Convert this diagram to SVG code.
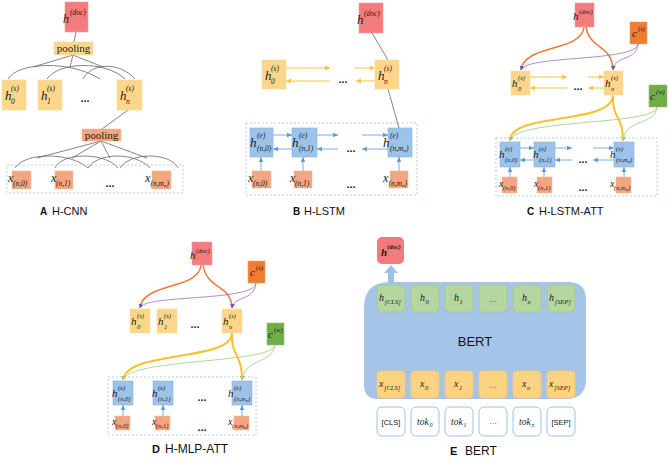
<svg xmlns="http://www.w3.org/2000/svg" width="669" height="458" viewBox="0 0 669 458">
<style>
.red{fill:#f47b7e;stroke:#eea0a0;stroke-width:0.6}
.yel{fill:#fdd68b;stroke:#f8dca6;stroke-width:0.6}
.sal{fill:#f4a680;stroke:#f2bca0;stroke-width:0.6}
.blu{fill:#9dc3ea;stroke:#86b0de;stroke-width:0.6}
.org{fill:#ed7d31;stroke:#f0a070;stroke-width:0.6}
.grn{fill:#70ad47;stroke:#90c070;stroke-width:0.6}
.eg{fill:#b5d69f;stroke:#a5cd8b;stroke-width:0.8}
.ey{fill:#fdd383;stroke:#f7c874;stroke-width:0.8}
.et{fill:#fff;stroke:#9dc3e6;stroke-width:1}
.dash{fill:none;stroke:#9dc3e6;stroke-width:0.8;stroke-dasharray:2,2}
.m{font-family:"Liberation Serif",serif;font-style:italic;fill:#1a1a1a}
.b{font-size:12px}
.s{font-size:7.5px}
.r{font-family:"Liberation Serif",serif;fill:#222}
.sans{font-family:"Liberation Sans",Arial,sans-serif;fill:#111}
.dots{font-family:"Liberation Sans",sans-serif;font-size:11px;font-weight:bold;fill:#222;text-anchor:middle}
.gl{fill:none;stroke:#666;stroke-width:0.8}
.ya{fill:none;stroke:#f8c53a;stroke-width:1;marker-end:url(#my)}
.ba{fill:none;stroke:#5b9bd5;stroke-width:0.8;marker-end:url(#mb)}
.oc{fill:none;stroke:#e97a3a;stroke-width:1.5}
.pc{fill:none;stroke:#9b6fcf;stroke-width:0.8}
.yc{fill:none;stroke:#f7c22d;stroke-width:2}
.gc{fill:none;stroke:#9ccc7a;stroke-width:0.8}
</style>
<defs>
<marker id="my" markerWidth="6" markerHeight="6" refX="5" refY="3" orient="auto" markerUnits="userSpaceOnUse"><path d="M0,0.5 L5,3 L0,5.5 z" fill="#f8c53a"/></marker>
<marker id="mb" markerWidth="6" markerHeight="6" refX="5" refY="3" orient="auto" markerUnits="userSpaceOnUse"><path d="M0,0.8 L5,3 L0,5.2 z" fill="#5b9bd5"/></marker>
<marker id="mp" markerWidth="6" markerHeight="6" refX="4" refY="3" orient="auto" markerUnits="userSpaceOnUse"><path d="M0,0.5 L4,3 L0,5.5 z" fill="#6a4fb0"/></marker>
<marker id="mg" markerWidth="6" markerHeight="6" refX="4" refY="3" orient="auto" markerUnits="userSpaceOnUse"><path d="M0,0.5 L4,3 L0,5.5 z" fill="#6aa84f"/></marker>
</defs>

<!-- connectors -->
<g id="connectors">
  <!-- A -->
  <path class="gl" d="M76,32 L74,42"/>
  <path class="gl" d="M73,55 L33,67 M73,55 L70,67 M73,55 L103,67"/>
  <path class="gl" d="M8,79 C18,62 70,60 100,79"/>
  <path class="gl" d="M47,79 C58,62 105,60 125,79"/>
  <path class="gl" d="M83,79 C92,62 120,62 135,79"/>
  <path class="gl" d="M128,110 L102,129"/>
  <path class="gl" d="M101,141 L37,158 M101,141 L72,158 M101,141 L110,158 M101,141 L147,158"/>
  <path class="gl" d="M15,168 C25,152 70,152 88,168"/>
  <path class="gl" d="M55,168 C62,152 105,152 118,168"/>
  <path class="gl" d="M88,168 C98,152 135,152 150,168"/>
  <path class="gl" d="M120,168 C130,152 170,152 178,168"/>
  <!-- B -->
  <path class="gl" d="M372,33 L388,60 M388,89 L399,128"/>
  <path class="ya" d="M286,68 L330,68"/><path class="ya" d="M355,68 L375,68"/>
  <path class="ya" d="M330,81 L286,81"/><path class="ya" d="M375,81 L356,81"/>
  <path class="ba" d="M273,135 L292,135"/><path class="ba" d="M317,135 L338,135"/><path class="ba" d="M362,135 L388,135"/>
  <path class="ba" d="M292,149 L273,149"/><path class="ba" d="M338,149 L317,149"/><path class="ba" d="M388,149 L362,149"/>
  <path class="ba" d="M261,171 L261,157"/><path class="ba" d="M303,171 L303,157"/><path class="ba" d="M399,171 L399,157"/>
  <!-- C -->
  <path class="oc" d="M584,27 C582,52 524,44 521,70"/>
  <path class="oc" d="M586,27 C590,50 612,44 613,70"/>
  <path class="pc" d="M638,44 C636,62 525,55 521,70" marker-end="url(#mp)"/>
  <path class="pc" d="M638,44 C636,62 614,55 613,70" marker-end="url(#mp)"/>
  <path class="ya" d="M530,77 L567,77"/><path class="ya" d="M588,77 L604,77"/>
  <path class="ya" d="M567,88 L530,88"/><path class="ya" d="M604,88 L588,88"/>
  <path class="gc" d="M657,107 C655,126 515,118 510,141" marker-end="url(#mg)"/>
  <path class="gc" d="M657,107 C655,126 625,118 623,141" marker-end="url(#mg)"/>
  <path class="yc" d="M613,95 C613,125 512,112 510,140"/>
  <path class="yc" d="M613,95 C612,120 623,115 623,140"/>
  <path class="ba" d="M520,148 L534,148"/><path class="ba" d="M555,148 L572,148"/><path class="ba" d="M593,148 L614,148"/>
  <path class="ba" d="M534,160 L520,160"/><path class="ba" d="M572,160 L555,160"/><path class="ba" d="M614,160 L593,160"/>
  <path class="ba" d="M510,177 L510,167"/><path class="ba" d="M544,177 L544,167"/><path class="ba" d="M624,177 L624,167"/>
  <!-- D -->
  <path class="oc" d="M201,265 C199,290 143,282 140,308"/>
  <path class="oc" d="M203,265 C207,290 231,284 232,308"/>
  <path class="pc" d="M256,283 C254,302 144,294 140,308" marker-end="url(#mp)"/>
  <path class="pc" d="M256,283 C254,302 234,295 232,308" marker-end="url(#mp)"/>
  <path class="gc" d="M275,345 C273,364 128,358 123,380" marker-end="url(#mg)"/>
  <path class="gc" d="M275,345 C273,364 244,358 242,380" marker-end="url(#mg)"/>
  <path class="yc" d="M232,333 C232,362 126,350 123,380"/>
  <path class="yc" d="M232,333 C231,358 242,352 242,380"/>
  <path class="ba" d="M123,416 L123,405"/><path class="ba" d="M163,416 L163,405"/><path class="ba" d="M242,416 L242,405"/>
</g>

<!-- Panel A -->
<g id="A-hdoc"><rect class="red" x="65" y="2" width="23" height="30"/><text class="m"><tspan class="b" x="63" y="23" font-size="13">h</tspan><tspan class="s" x="70" y="15">(doc)</tspan></text></g>
<g id="A-pool1"><rect class="yel" x="54" y="42" width="39" height="13"/><text class="r" x="73.5" y="52" font-size="11" text-anchor="middle">pooling</text></g>
<g id="A-h0"><rect class="yel" x="2" y="80" width="24" height="30"/><text class="m"><tspan x="5" y="100" font-size="13">h</tspan><tspan class="s" x="11" y="91">(s)</tspan><tspan class="s" x="11" y="104">0</tspan></text></g>
<g id="A-h1"><rect class="yel" x="38" y="80" width="24" height="30"/><text class="m"><tspan x="41" y="100" font-size="13">h</tspan><tspan class="s" x="47" y="91">(s)</tspan><tspan class="s" x="47" y="104">1</tspan></text></g>
<text class="dots" x="85" y="102">...</text>
<g id="A-hn"><rect class="yel" x="117" y="80" width="25" height="30"/><text class="m"><tspan x="120" y="100" font-size="13">h</tspan><tspan class="s" x="126" y="91">(s)</tspan><tspan class="s" x="126" y="104">n</tspan></text></g>
<g id="A-pool2"><rect class="sal" x="82" y="129" width="39" height="12"/><text class="r" x="101.5" y="139" font-size="11" text-anchor="middle">pooling</text></g>
<rect class="dash" x="7" y="165" width="176" height="28"/>
<g id="A-x0"><rect class="sal" x="12" y="171" width="19" height="18"/><text class="m"><tspan x="8" y="182" font-size="12">x</tspan><tspan class="s" x="13" y="186">(n,0)</tspan></text></g>
<g id="A-x1"><rect class="sal" x="55" y="171" width="18" height="18"/><text class="m"><tspan x="51" y="182" font-size="12">x</tspan><tspan class="s" x="56" y="186">(n,1)</tspan></text></g>
<text class="dots" x="110" y="187">...</text>
<g id="A-xn"><rect class="sal" x="152" y="171" width="19" height="18"/><text class="m"><tspan x="145" y="182" font-size="12">x</tspan><tspan class="s" x="150.5" y="186">(n,m</tspan><tspan font-size="5" dy="1">n</tspan><tspan class="s" dy="-1">)</tspan></text></g>
<text class="sans" x="40" y="215" font-size="10" font-weight="bold">A</text><text class="sans" x="52" y="215" font-size="11">H-CNN</text>

<!-- Panel B -->
<g id="B-hdoc"><rect class="red" x="359" y="3" width="24" height="30"/><text class="m"><tspan x="357" y="24" font-size="13">h</tspan><tspan class="s" x="364" y="16">(doc)</tspan></text></g>
<g id="B-h0"><rect class="yel" x="262" y="60" width="24" height="29"/><text class="m"><tspan x="265" y="80" font-size="13">h</tspan><tspan class="s" x="271" y="71">(s)</tspan><tspan class="s" x="271" y="84">0</tspan></text></g>
<text class="dots" x="343" y="83">...</text>
<g id="B-hn"><rect class="yel" x="375" y="60" width="24" height="29"/><text class="m"><tspan x="378" y="80" font-size="13">h</tspan><tspan class="s" x="384" y="71">(s)</tspan><tspan class="s" x="384" y="84">n</tspan></text></g>
<rect class="dash" x="246" y="123" width="171" height="72"/>
<g id="B-he0"><rect class="blu" x="250" y="128" width="23" height="29"/><text class="m"><tspan x="250" y="147" font-size="13">h</tspan><tspan class="s" x="257" y="138">(e)</tspan><tspan class="s" x="257" y="151">(n,0)</tspan></text></g>
<g id="B-he1"><rect class="blu" x="292" y="128" width="25" height="29"/><text class="m"><tspan x="292" y="147" font-size="13">h</tspan><tspan class="s" x="299" y="138">(e)</tspan><tspan class="s" x="299" y="151">(n,1)</tspan></text></g>
<text class="dots" x="351" y="152">...</text>
<g id="B-hen"><rect class="blu" x="388" y="128" width="24" height="29"/><text class="m"><tspan x="383" y="147" font-size="13">h</tspan><tspan class="s" x="390" y="138">(e)</tspan><tspan class="s" x="390" y="151">(n,m</tspan><tspan font-size="5" dy="1">n</tspan><tspan class="s" dy="-1">)</tspan></text></g>
<g id="B-x0"><rect class="sal" x="252" y="171" width="19" height="17"/><text class="m"><tspan x="248" y="182" font-size="12">x</tspan><tspan class="s" x="253" y="186">(n,0)</tspan></text></g>
<g id="B-x1"><rect class="sal" x="294" y="171" width="18" height="17"/><text class="m"><tspan x="290" y="182" font-size="12">x</tspan><tspan class="s" x="295" y="186">(n,1)</tspan></text></g>
<text class="dots" x="351" y="188">...</text>
<g id="B-xn"><rect class="sal" x="390" y="171" width="18" height="17"/><text class="m"><tspan x="383" y="182" font-size="12">x</tspan><tspan class="s" x="388.5" y="186">(n,m</tspan><tspan font-size="5" dy="1">n</tspan><tspan class="s" dy="-1">)</tspan></text></g>
<text class="sans" x="293" y="215" font-size="10" font-weight="bold">B</text><text class="sans" x="304" y="215" font-size="11">H-LSTM</text>

<!-- Panel C -->
<g id="C-hdoc"><rect class="red" x="575" y="3" width="19" height="24"/><text class="m"><tspan x="573" y="20" font-size="11">h</tspan><tspan font-size="6.5" x="579" y="14">(doc)</tspan></text></g>
<g id="C-cs"><rect class="org" x="630" y="22" width="17" height="22"/><text class="m"><tspan x="632" y="37" font-size="11">c</tspan><tspan font-size="6.5" x="638" y="31">(s)</tspan></text></g>
<g id="C-h0"><rect class="yel" x="511" y="71" width="19" height="24"/><text class="m"><tspan x="512" y="87" font-size="11">h</tspan><tspan font-size="6.5" x="518" y="80">(s)</tspan><tspan font-size="6.5" x="518" y="91">0</tspan></text></g>
<text class="dots" x="578" y="90">...</text>
<g id="C-hn"><rect class="yel" x="604" y="71" width="19" height="24"/><text class="m"><tspan x="605" y="87" font-size="11">h</tspan><tspan font-size="6.5" x="611" y="80">(s)</tspan><tspan font-size="6.5" x="611" y="91">n</tspan></text></g>
<g id="C-cw"><rect class="grn" x="649" y="85" width="18" height="22"/><text class="m"><tspan x="650" y="100" font-size="11">c</tspan><tspan font-size="6.5" x="656" y="94">(w)</tspan></text></g>
<rect class="dash" x="496" y="138" width="161" height="58"/>
<g id="C-he0"><rect class="blu" x="500" y="142" width="20" height="25"/><text class="m"><tspan x="499" y="158" font-size="11">h</tspan><tspan font-size="6.5" x="505" y="151">(e)</tspan><tspan font-size="6.5" x="505" y="162">(n,0)</tspan></text></g>
<g id="C-he1"><rect class="blu" x="534" y="142" width="21" height="25"/><text class="m"><tspan x="533" y="158" font-size="11">h</tspan><tspan font-size="6.5" x="539" y="151">(e)</tspan><tspan font-size="6.5" x="539" y="162">(n,1)</tspan></text></g>
<text class="dots" x="583" y="163">...</text>
<g id="C-hen"><rect class="blu" x="614" y="142" width="20" height="25"/><text class="m"><tspan x="610" y="158" font-size="11">h</tspan><tspan font-size="6.5" x="616" y="151">(e)</tspan><tspan font-size="6.5" x="616" y="162">(n,m</tspan><tspan font-size="4.5" dy="1">n</tspan><tspan font-size="6.5" dy="-1">)</tspan></text></g>
<g id="C-x0"><rect class="sal" x="502" y="177" width="15" height="16"/><text class="m"><tspan x="499" y="187" font-size="10">x</tspan><tspan font-size="6.5" x="503" y="190">(n,0)</tspan></text></g>
<g id="C-x1"><rect class="sal" x="537" y="177" width="15" height="16"/><text class="m"><tspan x="534" y="187" font-size="10">x</tspan><tspan font-size="6.5" x="538" y="190">(n,1)</tspan></text></g>
<text class="dots" x="583" y="191">...</text>
<g id="C-xn"><rect class="sal" x="616" y="177" width="15" height="16"/><text class="m"><tspan x="610" y="187" font-size="10">x</tspan><tspan font-size="6.5" x="614" y="190">(n,m</tspan><tspan font-size="4.5" dy="1">n</tspan><tspan font-size="6.5" dy="-1">)</tspan></text></g>
<text class="sans" x="527" y="215" font-size="10" font-weight="bold">C</text><text class="sans" x="539" y="215" font-size="11">H-LSTM-ATT</text>

<!-- Panel D -->
<g id="D-hdoc"><rect class="red" x="192" y="242" width="20" height="23"/><text class="m"><tspan x="190" y="259" font-size="11">h</tspan><tspan font-size="6.5" x="196" y="253">(doc)</tspan></text></g>
<g id="D-cs"><rect class="org" x="248" y="261" width="17" height="22"/><text class="m"><tspan x="250" y="276" font-size="11">c</tspan><tspan font-size="6.5" x="256" y="270">(s)</tspan></text></g>
<g id="D-h0"><rect class="yel" x="130" y="309" width="20" height="24"/><text class="m"><tspan x="131" y="325" font-size="11">h</tspan><tspan font-size="6.5" x="137" y="318">(s)</tspan><tspan font-size="6.5" x="137" y="329">0</tspan></text></g>
<g id="D-h1"><rect class="yel" x="157" y="309" width="20" height="24"/><text class="m"><tspan x="158" y="325" font-size="11">h</tspan><tspan font-size="6.5" x="164" y="318">(s)</tspan><tspan font-size="6.5" x="164" y="329">1</tspan></text></g>
<text class="dots" x="195" y="328">...</text>
<g id="D-hn"><rect class="yel" x="222" y="309" width="20" height="24"/><text class="m"><tspan x="223" y="325" font-size="11">h</tspan><tspan font-size="6.5" x="229" y="318">(s)</tspan><tspan font-size="6.5" x="229" y="329">n</tspan></text></g>
<g id="D-cw"><rect class="grn" x="267" y="323" width="17" height="22"/><text class="m"><tspan x="268" y="338" font-size="11">c</tspan><tspan font-size="6.5" x="274" y="332">(w)</tspan></text></g>
<rect class="dash" x="108" y="377" width="148" height="58"/>
<g id="D-he0"><rect class="blu" x="113" y="381" width="20" height="24"/><text class="m"><tspan x="112" y="397" font-size="11">h</tspan><tspan font-size="6.5" x="118" y="390">(e)</tspan><tspan font-size="6.5" x="118" y="401">(n,0)</tspan></text></g>
<g id="D-he1"><rect class="blu" x="153" y="381" width="20" height="24"/><text class="m"><tspan x="152" y="397" font-size="11">h</tspan><tspan font-size="6.5" x="158" y="390">(e)</tspan><tspan font-size="6.5" x="158" y="401">(n,1)</tspan></text></g>
<text class="dots" x="202" y="401">...</text>
<g id="D-hen"><rect class="blu" x="232" y="381" width="20" height="24"/><text class="m"><tspan x="228" y="397" font-size="11">h</tspan><tspan font-size="6.5" x="234" y="390">(e)</tspan><tspan font-size="6.5" x="234" y="401">(n,m</tspan><tspan font-size="4.5" dy="1">n</tspan><tspan font-size="6.5" dy="-1">)</tspan></text></g>
<g id="D-x0"><rect class="sal" x="115" y="416" width="15" height="14"/><text class="m"><tspan x="112" y="425" font-size="10">x</tspan><tspan font-size="6.5" x="116" y="428">(n,0)</tspan></text></g>
<g id="D-x1"><rect class="sal" x="155" y="416" width="15" height="14"/><text class="m"><tspan x="152" y="425" font-size="10">x</tspan><tspan font-size="6.5" x="156" y="428">(n,1)</tspan></text></g>
<text class="dots" x="202" y="431">...</text>
<g id="D-xn"><rect class="sal" x="234" y="416" width="15" height="14"/><text class="m"><tspan x="228" y="425" font-size="10">x</tspan><tspan font-size="6.5" x="232" y="428">(n,m</tspan><tspan font-size="4.5" dy="1">n</tspan><tspan font-size="6.5" dy="-1">)</tspan></text></g>
<text class="sans" x="152" y="453" font-size="11" font-weight="bold">D</text><text class="sans" x="165" y="453" font-size="12">H-MLP-ATT</text>

<!-- Panel E -->
<g id="E-bert">
  <path d="M390,282 L568,282 Q586,282 586,300 L586,379 Q586,399 566,399 L378,399 Q364,399 364,385 L364,308 Q364,282 390,282 Z" fill="#a6c4e7"/>
  <text class="sans" x="475" y="346" font-size="13" text-anchor="middle">BERT</text>
</g>
<path id="E-arrow" d="M388,283 L388,273 L384,273 L391,265 L398,273 L394,273 L394,283 Z" fill="#9dc0e6"/>
<g id="E-hdoc"><rect x="377" y="237" width="27" height="27" rx="5" fill="#f47a7d"/><text class="m" font-weight="bold"><tspan x="381" y="256" font-size="11">h</tspan><tspan font-size="6.5" x="387" y="249">(doc)</tspan></text></g>
<g id="E-hcls"><rect class="eg" x="377" y="285" width="28" height="27" rx="4"/><text class="m"><tspan x="379" y="301" font-size="10">h</tspan><tspan font-size="6.5" x="384.5" y="304">[CLS]</tspan></text></g>
<g id="E-h0"><rect class="eg" x="411" y="285" width="28" height="27" rx="4"/><text class="m"><tspan x="420" y="301" font-size="10">h</tspan><tspan font-size="6.5" x="425.5" y="304">0</tspan></text></g>
<g id="E-h1"><rect class="eg" x="445" y="285" width="28" height="27" rx="4"/><text class="m"><tspan x="454" y="301" font-size="10">h</tspan><tspan font-size="6.5" x="459.5" y="304">1</tspan></text></g>
<g id="E-hd"><rect class="eg" x="479" y="285" width="28" height="27" rx="4"/><text class="r" x="493" y="302" font-size="8" text-anchor="middle">…</text></g>
<g id="E-hn"><rect class="eg" x="513" y="285" width="28" height="27" rx="4"/><text class="m"><tspan x="522" y="301" font-size="10">h</tspan><tspan font-size="6.5" x="527.5" y="304">n</tspan></text></g>
<g id="E-hsep"><rect class="eg" x="547" y="285" width="28" height="27" rx="4"/><text class="m"><tspan x="549" y="301" font-size="10">h</tspan><tspan font-size="6.5" x="554.5" y="304">[SEP]</tspan></text></g>
<g id="E-xcls"><rect class="ey" x="377" y="371" width="28" height="27" rx="4"/><text class="m"><tspan x="379" y="387" font-size="10">x</tspan><tspan font-size="6.5" x="384" y="390">[CLS]</tspan></text></g>
<g id="E-x0"><rect class="ey" x="411" y="371" width="28" height="27" rx="4"/><text class="m"><tspan x="420" y="387" font-size="10">x</tspan><tspan font-size="6.5" x="425" y="390">0</tspan></text></g>
<g id="E-x1"><rect class="ey" x="445" y="371" width="28" height="27" rx="4"/><text class="m"><tspan x="454" y="387" font-size="10">x</tspan><tspan font-size="6.5" x="459" y="390">1</tspan></text></g>
<g id="E-xd"><rect class="ey" x="479" y="371" width="28" height="27" rx="4"/><text class="r" x="493" y="388" font-size="8" text-anchor="middle">…</text></g>
<g id="E-xn"><rect class="ey" x="513" y="371" width="28" height="27" rx="4"/><text class="m"><tspan x="522" y="387" font-size="10">x</tspan><tspan font-size="6.5" x="527" y="390">n</tspan></text></g>
<g id="E-xsep"><rect class="ey" x="547" y="371" width="28" height="27" rx="4"/><text class="m"><tspan x="549" y="387" font-size="10">x</tspan><tspan font-size="6.5" x="554" y="390">[SEP]</tspan></text></g>
<g id="E-tcls"><rect class="et" x="377" y="407" width="28" height="29" rx="5"/><text class="sans" x="391" y="424.5" font-size="7.5" text-anchor="middle">[CLS]</text></g>
<g id="E-t0"><rect class="et" x="411" y="407" width="28" height="29" rx="5"/><text class="m"><tspan x="417" y="424.5" font-size="9.5">tok</tspan><tspan font-size="6" x="429.5" y="427">0</tspan></text></g>
<g id="E-t1"><rect class="et" x="445" y="407" width="28" height="29" rx="5"/><text class="m"><tspan x="451" y="424.5" font-size="9.5">tok</tspan><tspan font-size="6" x="463.5" y="427">1</tspan></text></g>
<g id="E-td"><rect class="et" x="479" y="407" width="28" height="29" rx="5"/><text class="r" x="493" y="424" font-size="8" text-anchor="middle">…</text></g>
<g id="E-tn"><rect class="et" x="513" y="407" width="28" height="29" rx="5"/><text class="m"><tspan x="519" y="424.5" font-size="9.5">tok</tspan><tspan font-size="6" x="531.5" y="427">n</tspan></text></g>
<g id="E-tsep"><rect class="et" x="547" y="407" width="28" height="29" rx="5"/><text class="sans" x="561" y="424.5" font-size="7.5" text-anchor="middle">[SEP]</text></g>
<text class="sans" x="450" y="455" font-size="11" font-weight="bold">E</text><text class="sans" x="465" y="455" font-size="12">BERT</text>
</svg>
